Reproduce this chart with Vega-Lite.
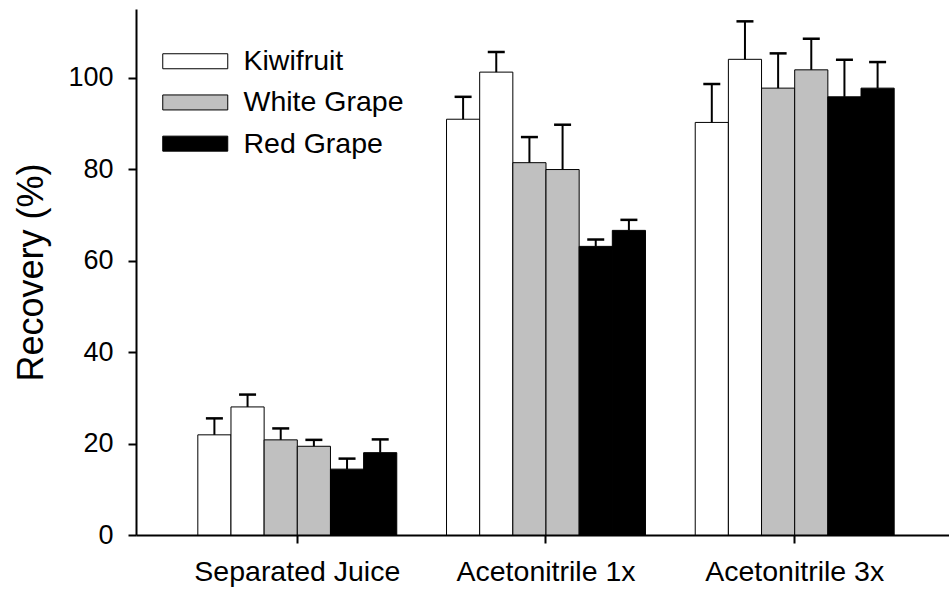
{
  "$schema": "https://vega.github.io/schema/vega-lite/v6.json",
  "width": 813,
  "height": 526,
  "autosize": {"type": "none"},
  "padding": {"left": 136, "top": 9, "right": 0, "bottom": 57},
  "background": "white",
  "config": {
    "view": {"stroke": null},
    "font": "Liberation Sans",
    "axis": {
      "domainColor": "black",
      "domainWidth": 2,
      "tickColor": "black",
      "tickWidth": 2,
      "tickSize": 8,
      "labelColor": "black",
      "labelFontSize": 27,
      "labelFont": "Liberation Sans",
      "labelLimit": 0,
      "titleFont": "Liberation Sans",
      "titleColor": "black",
      "grid": false
    }
  },
  "data": {
    "values": [
      {"treatment": "Separated Juice", "replicate": "Kiwifruit 1", "sample": "Kiwifruit", "value": 21.9, "upper": 25.5},
      {"treatment": "Separated Juice", "replicate": "Kiwifruit 2", "sample": "Kiwifruit", "value": 28.0, "upper": 30.7},
      {"treatment": "Separated Juice", "replicate": "White Grape 1", "sample": "White Grape", "value": 20.8, "upper": 23.3},
      {"treatment": "Separated Juice", "replicate": "White Grape 2", "sample": "White Grape", "value": 19.4, "upper": 20.8},
      {"treatment": "Separated Juice", "replicate": "Red Grape 1", "sample": "Red Grape", "value": 14.4, "upper": 16.7},
      {"treatment": "Separated Juice", "replicate": "Red Grape 2", "sample": "Red Grape", "value": 18.0, "upper": 20.9},
      {"treatment": "Acetonitrile 1x", "replicate": "Kiwifruit 1", "sample": "Kiwifruit", "value": 90.9, "upper": 95.8},
      {"treatment": "Acetonitrile 1x", "replicate": "Kiwifruit 2", "sample": "Kiwifruit", "value": 101.2, "upper": 105.6},
      {"treatment": "Acetonitrile 1x", "replicate": "White Grape 1", "sample": "White Grape", "value": 81.4, "upper": 87.0},
      {"treatment": "Acetonitrile 1x", "replicate": "White Grape 2", "sample": "White Grape", "value": 79.9, "upper": 89.7},
      {"treatment": "Acetonitrile 1x", "replicate": "Red Grape 1", "sample": "Red Grape", "value": 63.1, "upper": 64.6},
      {"treatment": "Acetonitrile 1x", "replicate": "Red Grape 2", "sample": "Red Grape", "value": 66.6, "upper": 68.9},
      {"treatment": "Acetonitrile 3x", "replicate": "Kiwifruit 1", "sample": "Kiwifruit", "value": 90.2, "upper": 98.6},
      {"treatment": "Acetonitrile 3x", "replicate": "Kiwifruit 2", "sample": "Kiwifruit", "value": 104.0, "upper": 112.3},
      {"treatment": "Acetonitrile 3x", "replicate": "White Grape 1", "sample": "White Grape", "value": 97.7, "upper": 105.3},
      {"treatment": "Acetonitrile 3x", "replicate": "White Grape 2", "sample": "White Grape", "value": 101.7, "upper": 108.5},
      {"treatment": "Acetonitrile 3x", "replicate": "Red Grape 1", "sample": "Red Grape", "value": 95.8, "upper": 103.9},
      {"treatment": "Acetonitrile 3x", "replicate": "Red Grape 2", "sample": "Red Grape", "value": 97.7, "upper": 103.4}
    ]
  },
  "encoding": {
    "x": {
      "field": "treatment",
      "type": "nominal",
      "sort": ["Separated Juice", "Acetonitrile 1x", "Acetonitrile 3x"],
      "scale": {"paddingInner": 0.2, "paddingOuter": 0.2345, "align": 0.53},
      "axis": {"title": null, "labelAngle": 0, "labelPadding": 14, "labelFontSize": 28.5}
    },
    "xOffset": {
      "field": "replicate",
      "type": "nominal",
      "sort": ["Kiwifruit 1", "Kiwifruit 2", "White Grape 1", "White Grape 2", "Red Grape 1", "Red Grape 2"],
      "scale": {"paddingInner": 0, "paddingOuter": 0}
    }
  },
  "layer": [
    {
      "mark": {"type": "bar", "stroke": "black", "strokeWidth": 1},
      "encoding": {
        "y": {
          "field": "value",
          "type": "quantitative",
          "scale": {"domain": [0, 115], "nice": false, "zero": true},
          "axis": {
            "title": "Recovery (%)",
            "titleFontSize": 36,
            "titleFontWeight": "normal",
            "titleAngle": -90,
            "titleBaseline": "alphabetic",
            "titleX": -94,
            "titleY": 263,
            "values": [0, 20, 40, 60, 80, 100],
            "labelPadding": 15
          }
        },
        "fill": {
          "field": "sample",
          "type": "nominal",
          "scale": {"domain": ["Kiwifruit", "White Grape", "Red Grape"], "range": ["#ffffff", "#c0c0c0", "#000000"]},
          "legend": {
            "title": null,
            "orient": "none",
            "legendX": 20,
            "legendY": 38,
            "symbolType": "M-1,-1H7.667V1H-1Z",
            "symbolSize": 225,
            "symbolStrokeColor": "black",
            "symbolStrokeWidth": 1,
            "labelFontSize": 28.5,
            "labelFont": "Liberation Sans",
            "labelColor": "black",
            "labelOffset": 59,
            "rowPadding": 12.2
          }
        }
      }
    },
    {
      "mark": {"type": "rule", "strokeWidth": 2, "color": "black"},
      "encoding": {
        "y": {"field": "value", "type": "quantitative"},
        "y2": {"field": "upper"}
      }
    },
    {
      "mark": {"type": "tick", "orient": "horizontal", "size": 17, "thickness": 2.5, "color": "black", "opacity": 1},
      "encoding": {
        "y": {"field": "upper", "type": "quantitative"}
      }
    }
  ]
}
